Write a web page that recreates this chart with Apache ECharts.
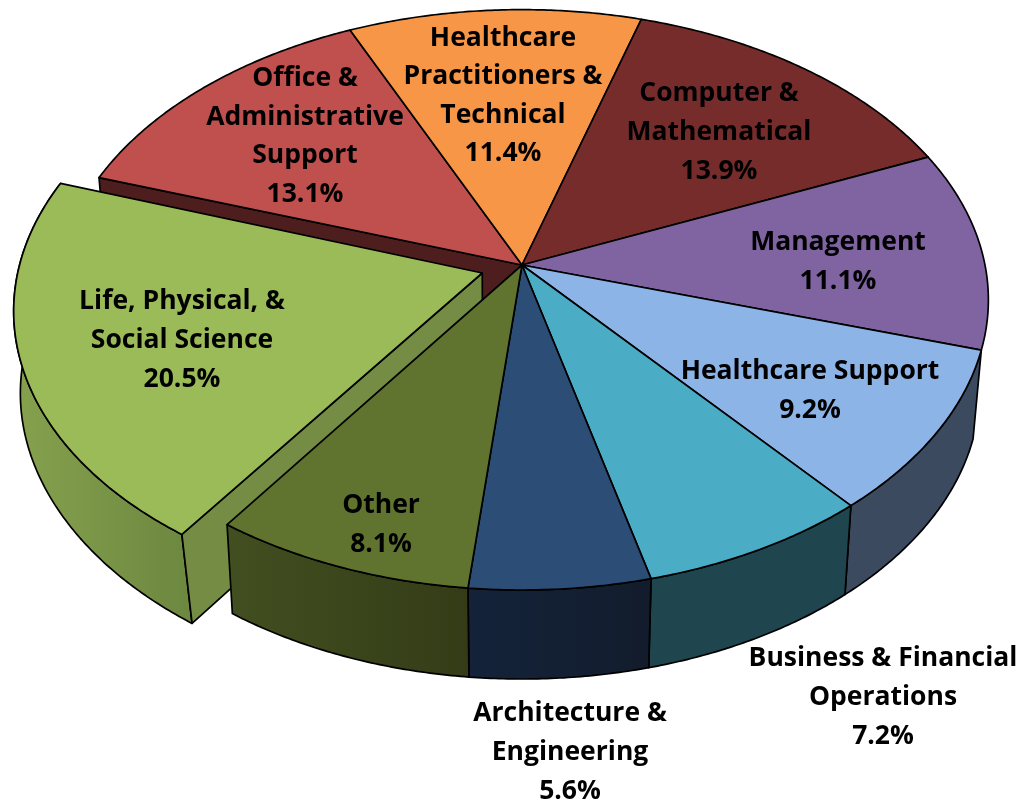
<!DOCTYPE html>
<html><head><meta charset="utf-8">
<script src="https://cdn.jsdelivr.net/npm/echarts@6/dist/echarts.min.js"></script>
<style>html,body{margin:0;padding:0;background:#fff}#c{width:1019px;height:801px}</style>
</head><body><div id="c"></div>
<script>
// ---- data ----
var categories = ['Office &\nAdministrative\nSupport','Healthcare\nPractitioners &\nTechnical','Computer &\nMathematical','Management','Healthcare Support','Business & Financial\nOperations','Architecture &\nEngineering','Other','Life, Physical, &\nSocial Science'];
var shares = [13.1,11.4,13.9,11.1,9.2,7.2,5.6,8.1,20.5];
var exploded = [0,0,0,0,0,0,0,0,1];
// ---- styles ----
var topColors = ['#C0504D','#F79646','#772C2C','#8064A2','#8DB4E7','#4BACC6','#2C4D75','#60742F','#9BBB59'];
var rimColors = [['#5c2726','#5c2726'],['#7a4a22','#7a4a22'],['#3a1616','#3a1616'],['#3f3151','#3f3151'],['#3B4A5E','#3B4A5E'],['#1F464F','#1F464F'],['#14233A','#121C2C'],['#424F20','#343C17'],['#86A24E','#6C873F']];
var labelAnchors = [[305,136.5],[503,96],[719,132.5],[838,262],[810,391],[883,697.5],[570,752.5],[381,525],[182,340.5]];
// ---- geometry ----
var CX=522, CY=265, AX=463, BY=286, PERSP=0.12, START=-71.5, EXPL=0.09, DEPTH=89, SHRINK=0.982;
var WALL_LIFE='#748C43', WALL_OFFICE='#4E1E1E';
var FONT='Open Sans', FS=26.5, LH=38.6;

var angles=[], a0=START;
shares.forEach(function(s){var a1=a0+s*3.6;angles.push([a0,a1]);a0=a1;});
function proj(X,Y){var w=1+PERSP*Y;return [CX+AX*X/w, CY-BY*Y/w];}
function down(p){return [CX+(p[0]-CX)*SHRINK, p[1]+DEPTH];}
function downOut(p){var s=0.99-0.02*Math.max(0,p[1]-CY)/270;return [CX+(p[0]-CX)*s, p[1]+DEPTH];}
function pt(deg,r,i){
  var t=deg*Math.PI/180, mid=(angles[i][0]+angles[i][1])/2*Math.PI/180, d=exploded[i]?EXPL:0;
  return proj(r*Math.sin(t)+d*Math.sin(mid), r*Math.cos(t)+d*Math.cos(mid));
}
function arc(i){var a=angles[i],n=Math.ceil(a[1]-a[0])*2,o=[];for(var k=0;k<=n;k++)o.push(pt(a[0]+(a[1]-a[0])*k/n,1,i));return o;}
function poly(api,pts,fill,z2){
  return {type:'polygon',z2:z2||0,shape:{points:pts.map(function(p){return api.coord(p);})},
    style:{fill:fill,stroke:'#000',lineWidth:1.7,lineJoin:'round'}};
}
function grad(c){return {type:'linear',x:0,y:0,x2:1,y2:0,colorStops:[{offset:0,color:c[0]},{offset:1,color:c[1]}]};}
var rowData=shares.map(function(s,i){return [s,i];});

function renderSides(params,api){
  var i=api.value(1), a=arc(i), kids=[];
  var z=exploded[i]?1:2, dn=exploded[i]?downOut:down;
  // only slices that start on the near half show an outer rim
  if(Math.cos(angles[i][0]*Math.PI/180)<0){
    kids.push(poly(api,a.concat(a.map(dn).reverse()),grad(rimColors[i]),z));
  }
  if(exploded[i]){
    var ap=pt(0,0,i), e=a[0];
    kids.push(poly(api,[ap,e,dn(e),dn(ap)],WALL_LIFE,z));
  }
  if(exploded[(i+shares.length-1)%shares.length]){
    var o=pt(angles[i][0],1,i), c=pt(0,0,i);
    kids.push(poly(api,[c,o,down(o),down(c)],WALL_OFFICE,0));
  }
  return {type:'group',children:kids};
}
function renderTops(params,api){
  var i=api.value(1);
  return poly(api,[pt(0,0,i)].concat(arc(i)),topColors[i],0);
}
function renderLabels(params,api){
  var i=api.value(1), p=api.coord(labelAnchors[i]);
  return {type:'text',x:p[0],y:p[1],style:{text:categories[i]+'\n'+api.value(0).toFixed(1)+'%',
    fontFamily:FONT,fontWeight:'bold',fontSize:FS,lineHeight:LH,fill:'#000',align:'center',verticalAlign:'middle'}};
}
var chart=echarts.init(document.getElementById('c'),null,{renderer:'canvas'});
chart.setOption({
  animation:false,backgroundColor:'#fff',
  grid:{left:0,right:0,top:0,bottom:0},
  xAxis:{type:'value',min:0,max:1019,show:false},
  yAxis:{type:'value',min:0,max:801,inverse:true,show:false},
  tooltip:{show:false},
  series:[
    {type:'custom',z:2,clip:false,silent:true,data:rowData,renderItem:renderSides},
    {type:'custom',z:3,clip:false,silent:true,data:rowData,renderItem:renderTops},
    {type:'custom',z:4,clip:false,silent:true,data:rowData,renderItem:renderLabels}
  ]
});
</script></body></html>
